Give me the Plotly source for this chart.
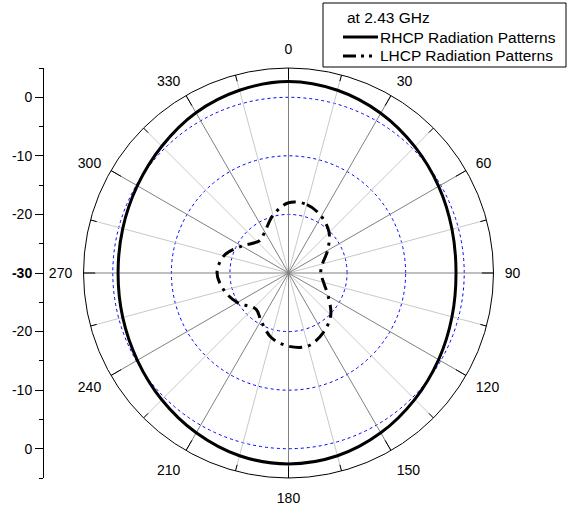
import plotly.graph_objects as go

# ---------------- data ----------------
rhcp_theta = [0, 15, 30, 45, 60, 75, 90, 105, 120, 135, 150, 165,
              180, 195, 210, 225, 240, 255, 270, 285, 300, 315, 330, 345]
rhcp_db = [2.7, 2.3, 1.5, 0.5, -0.4, -1.1, -1.4, -1.1, -0.4, 0.5, 1.5, 2.3,
           2.6, 2.3, 1.5, 0.6, -0.2, -0.7, -0.9, -0.7, -0.2, 0.6, 1.6, 2.3]

lhcp_theta = [0, 15, 30, 45, 60, 75, 90, 105, 120, 135, 150, 165,
              180, 195, 210, 222, 240, 255, 270, 285, 300, 318, 330, 345]
lhcp_db = [-18.0, -17.9, -18.8, -20.2, -22.3, -24.0, -24.5, -23.8, -22.2, -19.8, -18.2, -17.1,
           -17.5, -18.6, -20.6, -21.7, -19.9, -18.6, -17.8, -18.6, -20.8, -22.6, -21.9, -19.8]

legend_title = "at 2.43 GHz"
rhcp_name = "RHCP Radiation Patterns"
lhcp_name = "LHCP Radiation Patterns"

r_min, r_max = -30, 5
radial_grid = [-20, -10, 0]
angular_labels = list(range(0, 360, 30))
spokes_major = list(range(0, 360, 30))
spokes_minor = list(range(15, 360, 30))
left_tickvals = [-30, -20, -10, 0, 10, 20, 30]
left_ticktext = ["0", "-10", "-20", "<b>-30</b>", "-20", "-10", "0"]
left_minor = [-35, -25, -15, -5, 5, 15, 25, 35]

FONT = "Arial, Liberation Sans, sans-serif"
LHCP_DASH = "13px,6px,3px,6px"
LEG_DASH = "13px,5px,3px,5px,3px,5px"

# ---------------- layout geometry (pixels) ----------------
W, H = 568, 509
cx, cy, R = 288.5, 273.0, 205.0
dom_x = [(cx - R) / W, (cx + R) / W]
dom_y = [1 - (cy + R) / H, 1 - (cy - R) / H]


def px(x):
    return x / W


def py(y):
    return 1 - y / H


def segs(angles, r0, r1):
    rr, tt = [], []
    for a in angles:
        rr += [r0, r1, None]
        tt += [a, a, None]
    return rr, tt


fig = go.Figure()

# spokes
r_s, t_s = segs(spokes_minor, r_min, r_max)
fig.add_trace(go.Scatterpolar(r=r_s, theta=t_s, mode="lines",
                              line=dict(color="#c8c8c8", width=1),
                              showlegend=False, hoverinfo="skip"))
r_s, t_s = segs(spokes_major, r_min, r_max)
fig.add_trace(go.Scatterpolar(r=r_s, theta=t_s, mode="lines",
                              line=dict(color="#808080", width=1),
                              showlegend=False, hoverinfo="skip"))
# inner tick marks on the outer circle
r_s, t_s = segs(spokes_major, r_max - 2.0, r_max)
fig.add_trace(go.Scatterpolar(r=r_s, theta=t_s, mode="lines",
                              line=dict(color="black", width=1),
                              showlegend=False, hoverinfo="skip"))
r_s, t_s = segs(spokes_minor, r_max - 1.1, r_max)
fig.add_trace(go.Scatterpolar(r=r_s, theta=t_s, mode="lines",
                              line=dict(color="black", width=1),
                              showlegend=False, hoverinfo="skip"))

# data
fig.add_trace(go.Scatterpolar(r=rhcp_db + rhcp_db[:1], theta=rhcp_theta + [360],
                              mode="lines", name=rhcp_name, showlegend=False,
                              line=dict(color="black", width=3, shape="spline")))
fig.add_trace(go.Scatterpolar(r=lhcp_db + lhcp_db[:1], theta=lhcp_theta + [360],
                              mode="lines", name=lhcp_name, showlegend=False,
                              line=dict(color="black", width=3, shape="spline",
                                        dash=LHCP_DASH)))

# dummy trace so the left cartesian axis exists
fig.add_trace(go.Scatter(x=[0], y=[0], mode="markers", marker=dict(opacity=0),
                         showlegend=False, hoverinfo="skip", xaxis="x", yaxis="y"))

# ---------------- legend box (drawn) ----------------
shapes = [
    dict(type="rect", xref="paper", yref="paper",
         x0=px(323), x1=px(566), y0=py(67), y1=py(3),
         line=dict(color="black", width=1), fillcolor="white", layer="above"),
    dict(type="line", xref="paper", yref="paper",
         x0=px(343), x1=px(378), y0=py(37), y1=py(37),
         line=dict(color="black", width=3), layer="above"),
    dict(type="line", xref="paper", yref="paper",
         x0=px(343), x1=px(376), y0=py(56), y1=py(56),
         line=dict(color="black", width=3, dash=LEG_DASH), layer="above"),
]
annotations = [
    dict(text=legend_title, x=px(345), y=py(17)),
    dict(text=rhcp_name, x=px(378), y=py(37)),
    dict(text=lhcp_name, x=px(378), y=py(56)),
]
for a in annotations:
    a.update(xref="paper", yref="paper", xanchor="left", yanchor="middle",
             showarrow=False, font=dict(family=FONT, size=15.5, color="black"))

fig.update_layout(
    width=W, height=H,
    margin=dict(l=0, r=0, t=0, b=0),
    paper_bgcolor="white", plot_bgcolor="white",
    font=dict(family=FONT, size=14, color="black"),
    polar=dict(
        domain=dict(x=dom_x, y=dom_y),
        bgcolor="white",
        radialaxis=dict(range=[r_min, r_max], tickvals=radial_grid,
                        showticklabels=False, ticks="", showline=False,
                        gridcolor="blue", gridwidth=1, griddash="dot"),
        angularaxis=dict(rotation=90, direction="clockwise",
                         tickvals=angular_labels,
                         ticktext=[str(a) for a in angular_labels],
                         ticks="outside", ticklen=8, tickcolor="rgba(0,0,0,0)",
                         showgrid=False, showline=True, linecolor="black", linewidth=1,
                         tickfont=dict(family=FONT, size=14, color="black")),
    ),
    xaxis=dict(domain=[0.08, 0.09], range=[0, 1], visible=False, fixedrange=True),
    yaxis=dict(domain=dom_y, range=[-35, 35], anchor="free", position=43 / W,
               side="left", tickmode="array", tickvals=left_tickvals,
               ticktext=left_ticktext, ticks="outside", ticklen=8,
               tickcolor="black", showline=True, linecolor="black", linewidth=1,
               showgrid=False, zeroline=False,
               minor=dict(tickvals=left_minor, ticks="outside", ticklen=4,
                          tickcolor="black", showgrid=False),
               tickfont=dict(family=FONT, size=14, color="black")),
    shapes=shapes,
    annotations=annotations,
    showlegend=False,
)

fig.write_html("out.html", config={"displayModeBar": False},
               post_script="document.body.style.margin='0';document.body.style.overflow='hidden';")
